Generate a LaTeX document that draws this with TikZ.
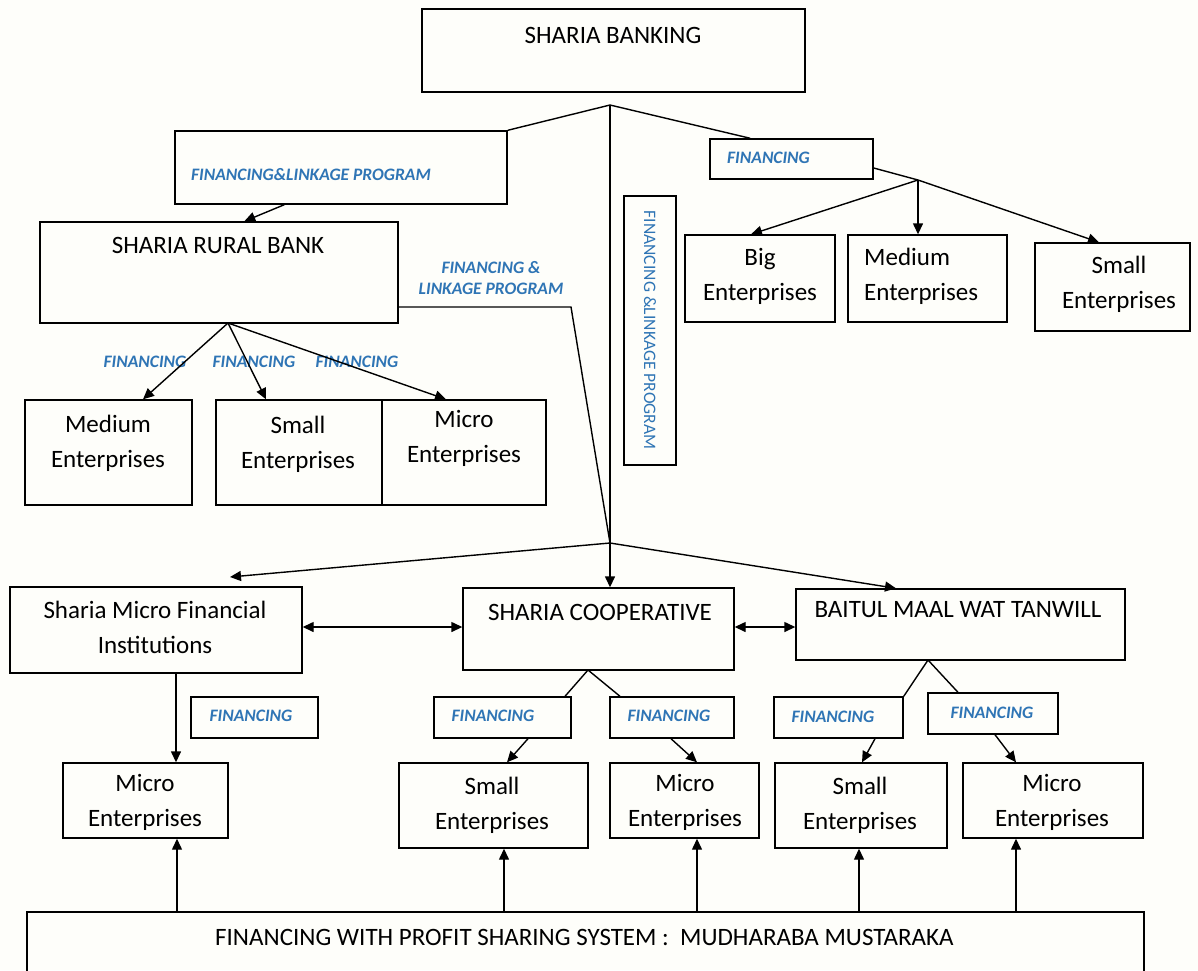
\documentclass[tikz,border=0pt]{standalone}
\usepackage{fontspec}
\setmainfont{Carlito}
\usetikzlibrary{arrows.meta,fit,calc}
\definecolor{lblue}{RGB}{47,117,181}
\definecolor{bgc}{RGB}{254,254,250}
\begin{document}
\begin{tikzpicture}[x=1pt,y=-1pt,
  box/.style={draw, line width=1.4pt, inner sep=0pt},
  conn/.style={line width=1.4pt},
  arr/.style={conn, -{Triangle[length=11pt,width=10pt]}},
  darr/.style={conn, {Triangle[length=11pt,width=10pt]}-{Triangle[length=11pt,width=10pt]}},
  txt/.style={font=\fontsize{25}{35}\selectfont, inner sep=0pt, align=center},
  lbl/.style={font=\fontsize{17.5}{21}\selectfont\bfseries\itshape, text=lblue, inner sep=0pt, align=center}]
\useasboundingbox (0,0) rectangle (1198,970);
\clip (0,0) rectangle (1198,970);
\fill[bgc] (0,0) rectangle (1198,970);

% boxes
\node[box, fit={(422,9) (805,92)}] (sb) {};
\node[box, fit={(175,131) (507,204)}] (fl) {};
\node[box, fit={(710,139) (873,179)}] (fin) {};
\node[box, fit={(624,196) (676,465)}] (vfl) {};
\node[box, fit={(685,235) (835,322)}] (big) {};
\node[box, fit={(848,235) (1007,322)}] (med) {};
\node[box, fit={(1035,243) (1190,331)}] (sml) {};
\node[box, fit={(40,222) (398,323)}] (srb) {};
\node[box, fit={(25,400) (192,505)}] (rmed) {};
\node[box, fit={(216,400) (382,505)}] (rsm) {};
\node[box, fit={(382,400) (546,505)}] (rmic) {};
\node[box, fit={(10,587) (302,673)}] (smfi) {};
\node[box, fit={(463,588) (734,670)}] (sc) {};
\node[box, fit={(796,589) (1125,660)}] (bmt) {};
\node[box, fit={(191,697) (318,738)}] (f1) {};
\node[box, fit={(434,697) (571,738)}] (f2) {};
\node[box, fit={(610,697) (734,738)}] (f3) {};
\node[box, fit={(774,697) (903,738)}] (f4) {};
\node[box, fit={(928,693) (1058,734)}] (f5) {};
\node[box, fit={(63,763) (228,838)}] (m1) {};
\node[box, fit={(399,763) (588,848)}] (s2) {};
\node[box, fit={(610,763) (759,838)}] (m3) {};
\node[box, fit={(775,763) (947,848)}] (s4) {};
\node[box, fit={(963,763) (1143,838)}] (m5) {};
\node[box, fit={(27,912) (1144,1000)}] (bot) {};

% texts
\node[txt] (tsb) at (613,35) {SHARIA BANKING};
\node[lbl, anchor=west] (tfl) at (191,175) {FINANCING\&LINKAGE PROGRAM};
\node[txt] (tsrb) at (218,245) {SHARIA RURAL BANK};
\node[lbl] (tfl2) at (491,278) {FINANCING \&\\LINKAGE PROGRAM};
\node[lbl, anchor=west] (tfin) at (727,158) {FINANCING};
\node[font=\fontsize{17.5}{20}\selectfont, text=lblue, inner sep=0pt, rotate=-90] (tvfl) at (650,330) {FINANCING \&LINKAGE PROGRAM};
\node[txt] (tbig) at (760,276) {Big\\Enterprises};
\node[txt, align=left, anchor=west] (tmed) at (864,276) {Medium\\Enterprises};
\node[txt] (tsml) at (1119,284) {Small\\Enterprises};
\node[txt] (trmed) at (108,443) {Medium\\Enterprises};
\node[txt] (trsm) at (298,444) {Small\\Enterprises};
\node[txt] (trmic) at (464,438) {Micro\\Enterprises};
\node[lbl] (lf1) at (145,362) {FINANCING};
\node[lbl] (lf2) at (254,362) {FINANCING};
\node[lbl] (lf3) at (357,362) {FINANCING};
\node[txt] (tsmfi) at (155,627) {Sharia Micro Financial\\Institutions};
\node[txt] (tsc) at (600,612) {SHARIA COOPERATIVE};
\node[txt] (tbmt) at (958,610) {BAITUL MAAL WAT TANWILL};
\node[lbl] (tf1) at (251,716) {FINANCING};
\node[lbl] (tf2) at (493,716) {FINANCING};
\node[lbl] (tf3) at (669,716) {FINANCING};
\node[lbl] (tf4) at (833,717) {FINANCING};
\node[lbl] (tf5) at (992,713) {FINANCING};
\node[txt] (tm1) at (145,802) {Micro\\Enterprises};
\node[txt] (ts2) at (492,805) {Small\\Enterprises};
\node[txt] (tm3) at (685,802) {Micro\\Enterprises};
\node[txt] (ts4) at (860,805) {Small\\Enterprises};
\node[txt] (tm5) at (1052,802) {Micro\\Enterprises};
\node[txt, anchor=west] (tbot) at (215,937) {FINANCING WITH PROFIT SHARING SYSTEM :\ \ MUDHARABA MUSTARAKA};

% junctions
\coordinate (J0) at (610,105);
\coordinate (J1) at (610,543);
\coordinate (J2) at (588,670);
\coordinate (J3) at (928,660);
\coordinate (J4) at (228,323);
\coordinate (J5) at (918,180);
\coordinate (K1) at (571,307);
\coordinate (tSM) at (230,577);

% top connectors
\draw[conn] (J0) -- (fl.north east);
\draw[conn] (J0) -- ([xshift=41pt]fin.north west);
\draw[arr] (J0) -- (J0 |- sc.north);
\draw[arr] ([xshift=110pt]fl.south west) -- ([xshift=205pt]srb.north west);
\draw[conn] (srb.east |- K1) -- (K1) -- (J1);
\draw[arr] (J1) -- (tSM);
\draw[arr] (J1) -- (bmt.north -| 896,0);
\draw[conn] (fin.east |- 0,168) -- (J5);
\draw[arr] (J5) -- (sml.north -| 1099,0);
\draw[arr] (J5) -- (big.north -| 751,0);
\draw[arr] (J5) -- (med.north -| J5);
% rural bank
\draw[arr] (J4) -- (rmed.north -| 143,0);
\draw[arr] (J4) -- (rsm.north -| 266,0);
\draw[arr] (J4) -- (rmic.north -| 446,0);
% middle row
\draw[darr] (smfi.east |- 0,627) -- (sc.west |- 0,627);
\draw[darr] (sc.east |- 0,627) -- (bmt.west |- 0,627);
\draw[arr] (smfi.south -| 176,0) -- (m1.north -| 176,0);
\draw[conn] (J2) -- (f2.north -| 565,0);
\draw[conn] (J2) -- (f3.north -| 620,0);
\draw[arr] (f2.south -| 528,0) -- (s2.north -| 507,0);
\draw[arr] (f3.south -| 671,0) -- (m3.north -| 697,0);
\draw[conn] (J3) -- (f4.north east);
\draw[conn] (J3) -- (f5.north -| 958,0);
\draw[arr] (f4.south -| 875,0) -- (s4.north -| 862,0);
\draw[arr] (f5.south -| 995,0) -- (m5.north -| 1016,0);
% bottom
\draw[arr] (bot.north -| 177,0) -- (m1.south -| 177,0);
\draw[arr] (bot.north -| 504,0) -- (s2.south -| 504,0);
\draw[arr] (bot.north -| 697,0) -- (m3.south -| 697,0);
\draw[arr] (bot.north -| 859,0) -- (s4.south -| 859,0);
\draw[arr] (bot.north -| 1016,0) -- (m5.south -| 1016,0);
\end{tikzpicture}
\end{document}
